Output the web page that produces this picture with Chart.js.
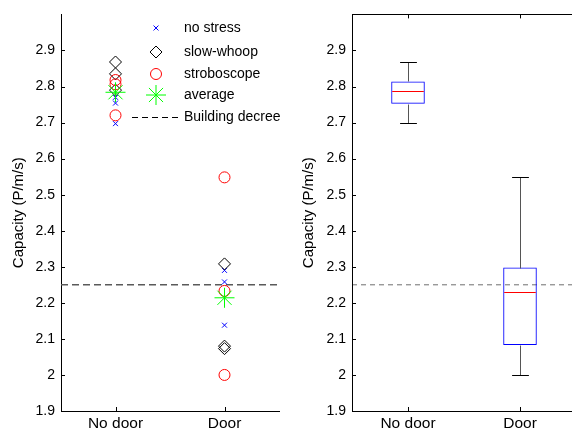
<!DOCTYPE html>
<html>
<head>
<meta charset="utf-8">
<script src="https://cdn.jsdelivr.net/npm/chart.js@4.4.1/dist/chart.umd.min.js"></script>
<style>
    html, body { margin: 0; padding: 0; background: #fff; overflow: hidden; width: 572px; height: 434px; }
    #left { position: absolute; left: 0; top: 0; width: 290px; height: 434px; }
    #right { position: absolute; left: 290px; top: 0; width: 292px; height: 434px; }
</style>
</head>
<body>
<div id="left"><canvas id="scatterChart"></canvas></div>
<div id="right"><canvas id="boxChart"></canvas></div>
<script>
// data
const categories = ['No door', 'Door'];

const noStressNoDoor = [2.77, 2.754, 2.697];
const noStressDoor = [2.29, 2.258, 2.138];
const slowWhoopNoDoor = [2.868, 2.835, 2.79];
const slowWhoopDoor = [2.308, 2.08, 2.073];
const stroboNoDoor = [2.818, 2.806, 2.72];
const stroboDoor = [2.548, 2.233, 2.0];
const averageValues = [2.784, 2.214];

const boxMin = [2.699, 2.0];
const boxQ1 = [2.752, 2.083];
const boxMedian = [2.788, 2.23];
const boxQ3 = [2.814, 2.298];
const boxMax = [2.869, 2.548];

const buildingDecree = 2.25;

const yLabel = 'Capacity (P/m/s)';
const legendLabels = ['no stress', 'slow-whoop', 'stroboscope', 'average', 'Building decree'];

Chart.defaults.font.family = '"Liberation Sans", Arial, Helvetica, sans-serif';
Chart.defaults.color = '#000';
Chart.defaults.animation = false;

const toPoints = (noDoor, door) => [
    ...noDoor.map(v => ({ x: categories[0], y: v })),
    ...door.map(v => ({ x: categories[1], y: v }))
];

const yScale = (axisWidth) => ({
    min: 1.9,
    max: 3.0,
    afterFit: (scale) => { scale.width = axisWidth; },
    border: { display: true, color: '#000', width: 1 },
    grid: { display: true, drawOnChartArea: false, drawTicks: false },
    ticks: {
        stepSize: 0.1,
        padding: 6,
        font: { size: 14 },
        callback: (v) => v > 2.95 ? '' : String(Number(v.toFixed(1)))
    },
    title: { display: true, text: yLabel, font: { size: 15 }, padding: { top: 10, bottom: 0 } }
});

const xScale = () => ({
    type: 'category',
    offset: true,
    afterFit: (scale) => { scale.height = 23; },
    border: { display: true, color: '#000', width: 1 },
    grid: { display: true, drawOnChartArea: false, drawTicks: false, offset: false },
    ticks: { padding: 3, font: { size: 15.5 } }
});

// ticks pointing into the axes, like matlab
const inwardTicks = (boxed) => ({
    id: 'inwardTicks',
    afterDraw(chart) {
        const { ctx, chartArea: a, scales } = chart;
        ctx.save();
        ctx.strokeStyle = '#000';
        ctx.lineWidth = 1;
        ctx.beginPath();
        scales.y.ticks.forEach(t => {
            if (t.value > 2.95) return;
            const py = Math.round(scales.y.getPixelForValue(t.value)) + 0.5;
            ctx.moveTo(a.left, py); ctx.lineTo(a.left + 4, py);
            if (boxed) { ctx.moveTo(a.right, py); ctx.lineTo(a.right - 4, py); }
        });
        categories.forEach((c, i) => {
            const px = Math.round(scales.x.getPixelForValue(i)) + 0.5;
            ctx.moveTo(px, a.bottom); ctx.lineTo(px, a.bottom - 4);
            if (boxed) { ctx.moveTo(px, a.top); ctx.lineTo(px, a.top + 4); }
        });
        ctx.stroke();
        if (boxed) {
            ctx.strokeRect(Math.round(a.left) + 0.5, Math.round(a.top) + 0.5, Math.round(a.width), Math.round(a.height));
        }
        ctx.restore();
    }
});

const decreeLine = (color, width, dash) => ({
    id: 'decreeLine',
    beforeDatasetsDraw(chart) {
        const { ctx, chartArea: a, scales } = chart;
        const py = scales.y.getPixelForValue(buildingDecree);
        ctx.save();
        ctx.strokeStyle = color;
        ctx.lineWidth = width;
        ctx.setLineDash(dash);
        ctx.beginPath();
        ctx.moveTo(a.left, py);
        ctx.lineTo(a.right, py);
        ctx.stroke();
        ctx.restore();
    }
});

const seriesStyles = [
    { pointStyle: 'crossRot', radius: 3.5, color: '#0000ff' },
    { pointStyle: 'rectRot', radius: 6, color: '#000000' },
    { pointStyle: 'circle', radius: 5.5, color: '#ff0000' },
    { pointStyle: 'star', radius: 10, color: '#00ff00' }
];

const scatterLegend = {
    id: 'scatterLegend',
    afterDraw(chart) {
        const { ctx } = chart;
        const rows = [28, 52, 74, 95, 117];
        ctx.save();
        ctx.font = '14px "Liberation Sans", Arial, sans-serif';
        ctx.textBaseline = 'middle';
        legendLabels.forEach((txt, i) => {
            if (i < 4) {
                const s = seriesStyles[i];
                ctx.strokeStyle = s.color;
                ctx.fillStyle = 'rgba(0,0,0,0)';
                ctx.lineWidth = 1;
                Chart.helpers.drawPoint(ctx, { pointStyle: s.pointStyle, radius: s.radius, rotation: 0, borderWidth: 1 }, 156, rows[i]);
            } else {
                ctx.strokeStyle = '#000';
                ctx.lineWidth = 1;
                ctx.setLineDash([6, 4]);
                ctx.beginPath();
                ctx.moveTo(132, rows[i] + 0.5);
                ctx.lineTo(178, rows[i] + 0.5);
                ctx.stroke();
                ctx.setLineDash([]);
            }
            ctx.fillStyle = '#000';
            ctx.fillText(txt, 184, rows[i]);
        });
        ctx.restore();
    }
};

const pointSets = [
    toPoints(noStressNoDoor, noStressDoor),
    toPoints(slowWhoopNoDoor, slowWhoopDoor),
    toPoints(stroboNoDoor, stroboDoor),
    averageValues.map((v, i) => ({ x: categories[i], y: v }))
];

new Chart(document.getElementById('scatterChart'), {
    type: 'line',
    data: {
        labels: categories,
        datasets: pointSets.map((pts, i) => ({
            label: legendLabels[i],
            data: pts,
            showLine: false,
            pointStyle: seriesStyles[i].pointStyle,
            pointRadius: seriesStyles[i].radius,
            pointBorderColor: seriesStyles[i].color,
            pointBackgroundColor: 'rgba(0,0,0,0)',
            pointBorderWidth: 1,
            order: i === 3 ? 0 : 4 - i
        }))
    },
    options: {
        responsive: true,
        maintainAspectRatio: false,
        layout: { padding: { top: 6, right: 7, left: 0, bottom: 0 } },
        plugins: { legend: { display: false }, tooltip: { enabled: false } },
        scales: { x: xScale(), y: yScale(61) }
    },
    plugins: [decreeLine('#5a5a5a', 1.6, [7, 4]), inwardTicks(false), scatterLegend]
});

// whiskers, caps and median for the box plot
const boxExtras = {
    id: 'boxExtras',
    afterDatasetsDraw(chart) {
        const { ctx, scales } = chart;
        const bars = chart.getDatasetMeta(0).data;
        ctx.save();
        ctx.lineWidth = 1;
        bars.forEach((bar, i) => {
            const px = Math.round(scales.x.getPixelForValue(i)) + 0.5;
            const half = bar.width / 2;
            const y = (v) => Math.round(scales.y.getPixelForValue(v)) + 0.5;
            ctx.strokeStyle = '#555555';
            ctx.beginPath();
            ctx.moveTo(px, y(boxQ3[i])); ctx.lineTo(px, y(boxMax[i]));
            ctx.moveTo(px, y(boxQ1[i])); ctx.lineTo(px, y(boxMin[i]));
            ctx.stroke();
            ctx.strokeStyle = '#000000';
            ctx.beginPath();
            ctx.moveTo(px - half / 2, y(boxMax[i])); ctx.lineTo(px + half / 2, y(boxMax[i]));
            ctx.moveTo(px - half / 2, y(boxMin[i])); ctx.lineTo(px + half / 2, y(boxMin[i]));
            ctx.stroke();
        });
        ctx.strokeStyle = '#ff0000';
        ctx.beginPath();
        bars.forEach((bar, i) => {
            const px = scales.x.getPixelForValue(i);
            const half = bar.width / 2;
            const my = Math.round(scales.y.getPixelForValue(boxMedian[i])) + 0.5;
            ctx.moveTo(px - half + 1, my); ctx.lineTo(px + half - 1, my);
        });
        ctx.stroke();
        ctx.restore();
    }
};

new Chart(document.getElementById('boxChart'), {
    type: 'bar',
    data: {
        labels: categories,
        datasets: [{
            data: boxQ1.map((q, i) => [q, boxQ3[i]]),
            backgroundColor: 'rgba(0,0,0,0)',
            borderColor: '#0000ff',
            borderWidth: 1,
            borderSkipped: false,
            barPercentage: 0.3,
            categoryPercentage: 1
        }]
    },
    options: {
        responsive: true,
        maintainAspectRatio: false,
        layout: { padding: { top: 5, right: 6, left: 0, bottom: 0 } },
        plugins: { legend: { display: false }, tooltip: { enabled: false } },
        scales: { x: xScale(), y: yScale(62) }
    },
    plugins: [decreeLine('#6e6e6e', 1, [5, 4]), boxExtras, inwardTicks(true)]
});
</script>
</body>
</html>
